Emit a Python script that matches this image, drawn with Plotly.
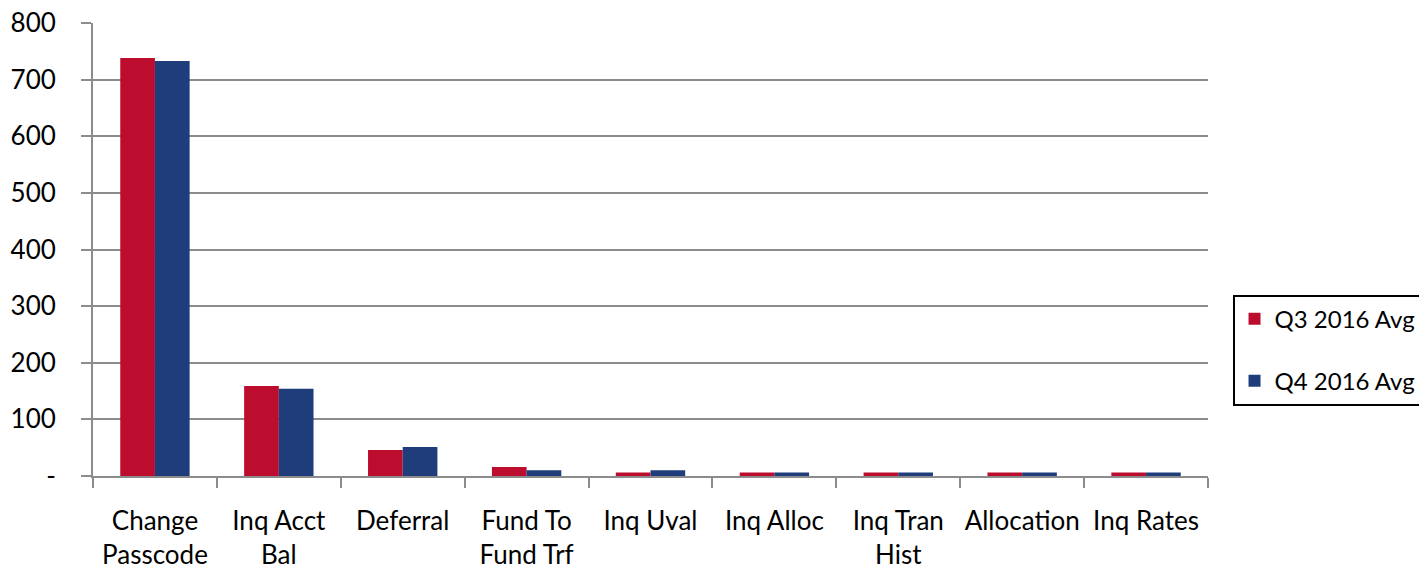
import plotly.graph_objects as go

categories = ["Change<br>Passcode", "Inq Acct<br>Bal", "Deferral", "Fund To<br>Fund Trf",
              "Inq Uval", "Inq Alloc", "Inq Tran<br>Hist", "Allocation", "Inq Rates"]
q3_values = [738, 159, 46, 16, 6, 6, 6, 6, 6]
q4_values = [733, 154, 51, 10, 10, 6, 6, 6, 6]
series_names = ["Q3 2016 Avg", "Q4 2016 Avg"]
y_tickvals = [0, 100, 200, 300, 400, 500, 600, 700, 800]
y_ticktext = ["-", "100", "200", "300", "400", "500", "600", "700", "800"]

FONT = "Lato, 'Open Sans', sans-serif"
GRAY = "#8c8c8c"
PAD = "\u00a0\u00a0\u00a0"

fig = go.Figure()
fig.add_trace(go.Bar(x=categories, y=q3_values, name=series_names[0],
                     marker=dict(color="#bc0d2f", line=dict(width=0)), legendgroup="a"))
fig.add_trace(go.Bar(x=categories, y=q4_values, name=series_names[1],
                     marker=dict(color="#1f3d7a", line=dict(width=0)), legendgroup="b"))

fig.update_layout(
    width=1427, height=576,
    margin=dict(l=85, r=225, t=15, b=108),
    paper_bgcolor="white", plot_bgcolor="white",
    barmode="group", bargap=0.44, bargroupgap=0,
    font=dict(family=FONT, size=26, color="black"),
    showlegend=True,
    legend=dict(x=1.022, xanchor="left", y=0.278, yanchor="middle",
                bordercolor="black", borderwidth=2, bgcolor="white",
                font=dict(size=24), tracegroupgap=28, traceorder="grouped",
                itemwidth=30),
)
fig.update_xaxes(
    showline=True, linecolor=GRAY, linewidth=2,
    ticks="outside", tickson="boundaries", ticklen=10, tickcolor=GRAY, tickwidth=2,
    showgrid=False, tickfont=dict(size=26), automargin=False, tickangle=0,
    ticklabelstandoff=21,
)
fig.update_yaxes(
    range=[0, 800], tickvals=y_tickvals, ticktext=[t + PAD for t in y_ticktext],
    showline=True, linecolor=GRAY, linewidth=2,
    ticks="outside", ticklen=10, tickcolor=GRAY, tickwidth=2,
    showgrid=True, gridcolor=GRAY, gridwidth=2, ticklabeloverflow="allow",
    tickfont=dict(size=26), automargin=False, zeroline=False,
)

fig.write_html("out.html")
